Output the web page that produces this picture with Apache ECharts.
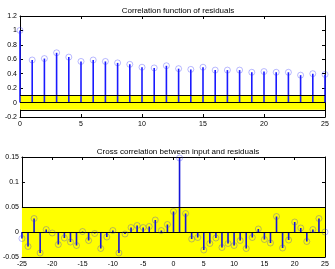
<!DOCTYPE html>
<html>
<head>
<meta charset="utf-8">
<script src="https://cdn.jsdelivr.net/npm/echarts@6/dist/echarts.min.js"></script>
<style>
html,body{margin:0;padding:0;background:#fff;}
#main{width:335px;height:269px;}
</style>
</head>
<body>
<div id="main"></div>
<script>
// autocorrelation of residuals, lags 0..25
var acLags = [0,1,2,3,4,5,6,7,8,9,10,11,12,13,14,15,16,17,18,19,20,21,22,23,24,25];
var acVals = [1,0.59,0.61,0.69,0.63,0.57,0.59,0.57,0.55,0.53,0.49,0.48,0.51,0.47,0.46,0.49,0.45,0.45,0.45,0.42,0.43,0.42,0.42,0.38,0.40,0.39];
var acConf = 0.1;
// cross correlation input/residuals, lags -25..25
var ccLags = [-25,-24,-23,-22,-21,-20,-19,-18,-17,-16,-15,-14,-13,-12,-11,-10,-9,-8,-7,-6,-5,-4,-3,-2,-1,0,1,2,3,4,5,6,7,8,9,10,11,12,13,14,15,16,17,18,19,20,21,22,23,24,25];
var ccVals = [-0.013,-0.029,0.027,-0.042,0.005,-0.002,-0.025,-0.012,-0.02,-0.027,0.001,-0.017,-0.003,-0.033,-0.01,0.003,-0.042,-0.004,0.009,0.013,0.009,0.011,0.024,0.003,0.015,0.041,0.148,0.037,-0.014,-0.011,-0.036,-0.023,-0.012,-0.031,-0.023,-0.027,-0.017,-0.033,-0.011,0.006,-0.015,-0.022,0.031,-0.032,-0.016,0.02,0.008,-0.019,0.005,0.027,0];
var ccConf = 0.05;

var lblFont = {fontSize:7, color:'#000', fontFamily:'Liberation Sans'};

function pairs(xs, ys){
	var out=[];
	for(var i=0;i<xs.length;i++){ out.push([xs[i],ys[i]]); }
	return out;
}
function xAx(idx,min,max,pos){
	return {
		gridIndex:idx, type:'value', min:min, max:max, interval:5, position:pos,
		axisLine:{show:true,onZero:false,lineStyle:{color:'#000',width:1}},
		axisTick:{show:true,inside:true,length:3,lineStyle:{color:'#000'}},
		axisLabel:pos=='bottom'?Object.assign({margin:4},lblFont):{show:false},
		splitLine:{show:false}
	};
}
function yAx(idx,min,max,step,pos){
	return {
		gridIndex:idx, type:'value', min:min, max:max, interval:step, position:pos,
		axisLine:{show:true,onZero:false,lineStyle:{color:'#000',width:1}},
		axisTick:{show:true,inside:true,length:3,lineStyle:{color:'#000'}},
		axisLabel:pos=='left'?Object.assign({margin:3},lblFont):{show:false},
		splitLine:{show:false}
	};
}
function band(conf){
	return {
		silent:true,
		itemStyle:{color:'#ffff00'},
		data:[[{yAxis:-conf},{yAxis:conf}]]
	};
}
function bandLines(conf){
	return {
		silent:true, symbol:'none', label:{show:false},
		lineStyle:{color:'#000',width:1.2,type:'solid'},
		data:[{yAxis:-conf},{yAxis:0},{yAxis:conf}]
	};
}

var myChart = echarts.init(document.getElementById('main'));
var option = {
	animation:false,
	title:[
		{text:'Correlation function of residuals', left:173, textAlign:'center', top:2,
		 textStyle:{fontSize:8,fontWeight:'normal',color:'#000',fontFamily:'Liberation Sans'}},
		{text:'Cross correlation between input and residuals', left:173, textAlign:'center', top:143,
		 textStyle:{fontSize:8,fontWeight:'normal',color:'#000',fontFamily:'Liberation Sans'}}
	],
	grid:[
		{left:20, right:10, top:16, height:101},
		{left:20, right:10, top:157, height:100}
	],
	xAxis:[xAx(0,0,25,'bottom'), xAx(0,0,25,'top'), xAx(1,-25,25,'bottom'), xAx(1,-25,25,'top')],
	yAxis:[yAx(0,-0.2,1.2,0.2,'left'), yAx(0,-0.2,1.2,0.2,'right'), yAx(1,-0.05,0.15,0.05,'left'), yAx(1,-0.05,0.15,0.05,'right')],
	series:[
		{
			type:'bar', xAxisIndex:0, yAxisIndex:0, barWidth:1.6,
			itemStyle:{color:'#1a1aff'},
			data:pairs(acLags,acVals),
			markArea:band(acConf),
			markLine:bandLines(acConf)
		},
		{
			type:'scatter', xAxisIndex:0, yAxisIndex:0, symbol:'circle', symbolSize:6, z:6,
			itemStyle:{color:'rgba(0,0,0,0)',borderColor:'rgba(40,40,255,0.4)',borderWidth:1},
			data:pairs(acLags,acVals)
		},
		{
			type:'bar', xAxisIndex:2, yAxisIndex:2, barWidth:1.6,
			itemStyle:{color:'#1414d8'},
			data:pairs(ccLags,ccVals),
			markArea:band(ccConf),
			markLine:bandLines(ccConf)
		},
		{
			type:'scatter', xAxisIndex:2, yAxisIndex:2, symbol:'circle', symbolSize:6, z:6,
			itemStyle:{color:'rgba(0,0,0,0)',borderColor:'rgba(40,40,255,0.4)',borderWidth:1},
			data:pairs(ccLags,ccVals)
		}
	]
};
myChart.setOption(option);
</script>
</body>
</html>
